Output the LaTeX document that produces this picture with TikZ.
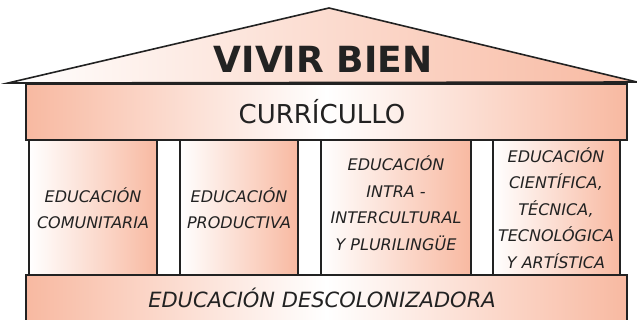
\documentclass[tikz,border=0pt]{standalone}
\usepackage{fontspec}
\setmainfont{DejaVu Sans}
\definecolor{salmon}{HTML}{F8B9A1}
\definecolor{edge}{HTML}{222222}
\begin{document}
\begin{tikzpicture}[x=1pt,y=-1pt,
  outline/.style={draw=edge,line width=1.6pt,line join=miter},
  band/.style={outline,left color=salmon,right color=salmon,middle color=white},
  pillar/.style={outline,left color=white,right color=salmon},
  coltext/.style={align=center,text=edge,inner sep=0pt,font=\fontsize{16}{26.5}\selectfont\itshape}]
\clip (0,0) rectangle (637,320);
% roof
\draw[outline,left color=white,right color=salmon] (8,83) -- (329,8) -- (637,82) -- cycle;
% currículo band
\draw[band] (26,84) rectangle (627,140);
% pillars
\draw[pillar] (29,140) rectangle (157,275);
\draw[pillar] (180,140) rectangle (298,275);
\draw[pillar] (321,140) rectangle (471,275);
\draw[pillar] (493,140) rectangle (620,275);
% base band
\draw[band] (26,275) rectangle (627,330);
% texts
\node[anchor=base,text=edge,inner sep=0pt,font=\fontsize{36}{40}\selectfont\bfseries] (vivir) at (323,73) {VIVIR BIEN};
\node[anchor=base,text=edge,inner sep=0pt,font=\fontsize{26}{30}\selectfont] (curr) at (322,124) {CURRÍCULLO};
\node[coltext] (c1) at (93,208) {EDUCACIÓN\\COMUNITARIA};
\node[coltext] (c2) at (239,208) {EDUCACIÓN\\PRODUCTIVA};
\node[coltext] (c3) at (396,203) {EDUCACIÓN\\INTRA -\\INTERCULTURAL\\Y PLURILINGÜE};
\node[coltext] (c4) at (556,208) {EDUCACIÓN\\CIENTÍFICA,\\TÉCNICA,\\TECNOLÓGICA\\Y ARTÍSTICA};
\node[anchor=base,text=edge,inner sep=0pt,font=\fontsize{21}{25}\selectfont\itshape] (base) at (322,307) {EDUCACIÓN DESCOLONIZADORA};
\end{tikzpicture}
\end{document}
